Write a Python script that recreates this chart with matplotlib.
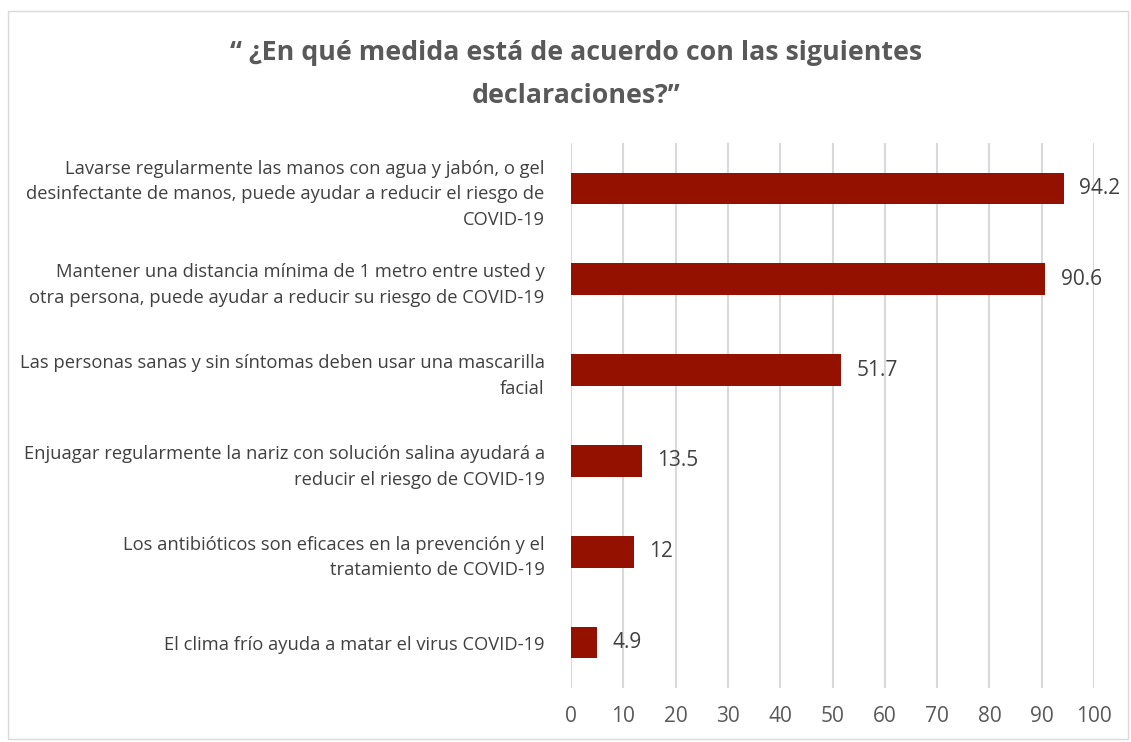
import matplotlib.pyplot as plt
from matplotlib.patches import Rectangle

plt.rcParams['font.family'] = ['Open Sans', 'DejaVu Sans']

categories = [
    'Lavarse regularmente las manos con agua y jabón, o gel\ndesinfectante de manos, puede ayudar a reducir el riesgo de\nCOVID-19',
    'Mantener una distancia mínima de 1 metro entre usted y\notra persona, puede ayudar a reducir su riesgo de COVID-19',
    'Las personas sanas y sin síntomas deben usar una mascarilla\nfacial',
    'Enjuagar regularmente la nariz con solución salina ayudará a\nreducir el riesgo de COVID-19',
    'Los antibióticos son eficaces en la prevención y el\ntratamiento de COVID-19',
    'El clima frío ayuda a matar el virus COVID-19',
]
values = [94.2, 90.6, 51.7, 13.5, 12, 4.9]
value_labels = ['94.2', '90.6', '51.7', '13.5', '12', '4.9']
xticks = list(range(0, 101, 10))

fig = plt.figure(figsize=(11.31, 7.42), dpi=100)
ax = fig.add_axes([0.5049, 0.0728, 0.4624, 0.7345])

ypos = list(range(len(categories)))[::-1]
ax.barh(ypos, values, height=0.35, color='#941100', zorder=3)
for y, v, lab in zip(ypos, values, value_labels):
    ax.text(v + 3.0, y, lab, va='center', ha='left', fontsize=15, color='#404040')

ax.set_xlim(0, 100)
ax.set_ylim(-0.5, len(categories) - 0.5)
ax.set_xticks(xticks)
ax.set_yticks(ypos)
ax.set_yticklabels(categories, fontsize=13.2, color='#404040', linespacing=1.55)
ax.tick_params(axis='y', length=0, pad=19)
ax.tick_params(axis='x', length=0, pad=13, labelsize=15, labelcolor='#595959')
ax.grid(axis='x', color='#d9d9d9', linewidth=1.5, zorder=0)
for s in ax.spines.values():
    s.set_visible(False)

fig.text(0.509, 0.899, '“ ¿En qué medida está de acuerdo con las siguientes\ndeclaraciones?”',
         ha='center', va='center', fontsize=19.3, fontweight='bold', color='#595959',
         linespacing=1.85)

fig.patches.append(Rectangle((8 / 1131, 3 / 742), 1120 / 1131, 728 / 742,
                             transform=fig.transFigure, fill=False,
                             edgecolor='#d9d9d9', linewidth=1))

fig.savefig('out.png', dpi=100)
